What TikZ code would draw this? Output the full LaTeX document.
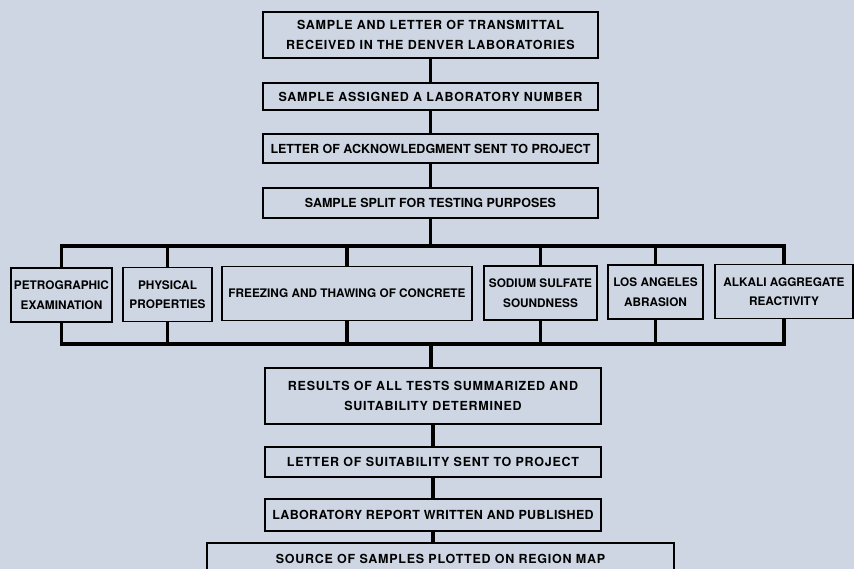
\documentclass[tikz,border=0pt]{standalone}
\usepackage{fontspec}
\setmainfont{TeX Gyre Heros}
\newfontfamily\wideface{TeX Gyre Heros}[LetterSpace=6]
\newfontfamily\midface{TeX Gyre Heros}[LetterSpace=3]
\usetikzlibrary{calc}
\pgfdeclarelayer{background}
\pgfsetlayers{background,main}
\definecolor{paper}{HTML}{CDD6E2}

\tikzset{
  stepbox/.style={draw=black, line width=1.6pt, fill=paper, align=center,
    inner sep=0pt, font=\fontsize{12.5}{19.5}\selectfont\bfseries},
  widetext/.style={font=\fontsize{12.5}{19.5}\wideface\bfseries},
  midtext/.style={font=\fontsize{12.5}{19.5}\midface\bfseries},
  testbox/.style={stepbox, minimum height=54pt, font=\fontsize{11.8}{19.5}\selectfont\bfseries},
  link/.style={line width=3.6pt, draw=black}
}

\begin{document}
\begin{tikzpicture}[x=1pt, y=-1pt]

\begin{pgfonlayer}{background}
\fill[paper] (0,0) rectangle (854,569);
\end{pgfonlayer}
\useasboundingbox (0,0) rectangle (854,569);
\clip (0,0) rectangle (854,569);

% main column
\node[stepbox, widetext, minimum width=335pt, minimum height=46pt] (received) at (430.5,35)
  {SAMPLE AND LETTER OF TRANSMITTAL\\RECEIVED IN THE DENVER LABORATORIES};
\node[stepbox, widetext, minimum width=335pt, minimum height=27pt] (number) at (430.5,96.5)
  {SAMPLE ASSIGNED A LABORATORY NUMBER};
\node[stepbox, minimum width=335pt, minimum height=29pt] (ack) at (430.5,148.5)
  {LETTER OF ACKNOWLEDGMENT SENT TO PROJECT};
\node[stepbox, minimum width=335pt, minimum height=30pt] (split) at (430.5,203)
  {SAMPLE SPLIT FOR TESTING PURPOSES};

% tests
\node[testbox, minimum width=101pt] (petro) at (61.5,295)
  {PETROGRAPHIC\\EXAMINATION};
\node[testbox, minimum width=89pt] (phys) at (167.5,294.5)
  {PHYSICAL\\PROPERTIES};
\node[testbox, minimum width=250pt] (freeze) at (347,293.5)
  {FREEZING AND THAWING OF CONCRETE};
\node[testbox, minimum width=113pt] (sodium) at (540.5,293)
  {SODIUM SULFATE\\SOUNDNESS};
\node[testbox, minimum width=95pt] (abrasion) at (655.5,292)
  {LOS ANGELES\\ABRASION};
\node[testbox, minimum width=138pt] (alkali) at (784,291.5)
  {ALKALI AGGREGATE\\REACTIVITY};

\node[stepbox, widetext, minimum width=336pt, minimum height=56pt] (results) at (433,396)
  {RESULTS OF ALL TESTS SUMMARIZED AND\\SUITABILITY DETERMINED};
\node[stepbox, widetext, minimum width=336pt, minimum height=30pt] (suit) at (433,462)
  {LETTER OF SUITABILITY SENT TO PROJECT};
\node[stepbox, midtext, minimum width=336pt, minimum height=32pt] (report) at (433,515)
  {LABORATORY REPORT WRITTEN AND PUBLISHED};
\node[stepbox, widetext, minimum width=467pt, minimum height=33pt, anchor=north] (map) at (440.5,542)
  {SOURCE OF SAMPLES PLOTTED ON REGION MAP};

\coordinate (topbus) at (430.5,246);
\coordinate (botbus) at (431,344);

\begin{pgfonlayer}{background}
\draw[link] (received) -- (number);
\draw[link] (number) -- (ack);
\draw[link] (ack) -- (split);
\draw[link] (split.south) -- (topbus);
\draw[link] (petro.north) |- (topbus) -| (alkali.north);
\foreach \t in {phys,freeze,sodium,abrasion}
  \draw[link] (\t.north) -- (\t.north |- topbus);
\draw[link] (petro.south) |- (botbus) -| (alkali.south);
\foreach \t in {phys,freeze,sodium,abrasion}
  \draw[link] (\t.south) -- (\t.south |- botbus);
\draw[link] (botbus) -- (botbus |- results.north);
\draw[link] (results) -- (suit);
\draw[link] (suit) -- (report);
\draw[link] (report.south) -- (report.south |- map.north);
\end{pgfonlayer}

\end{tikzpicture}
\end{document}
